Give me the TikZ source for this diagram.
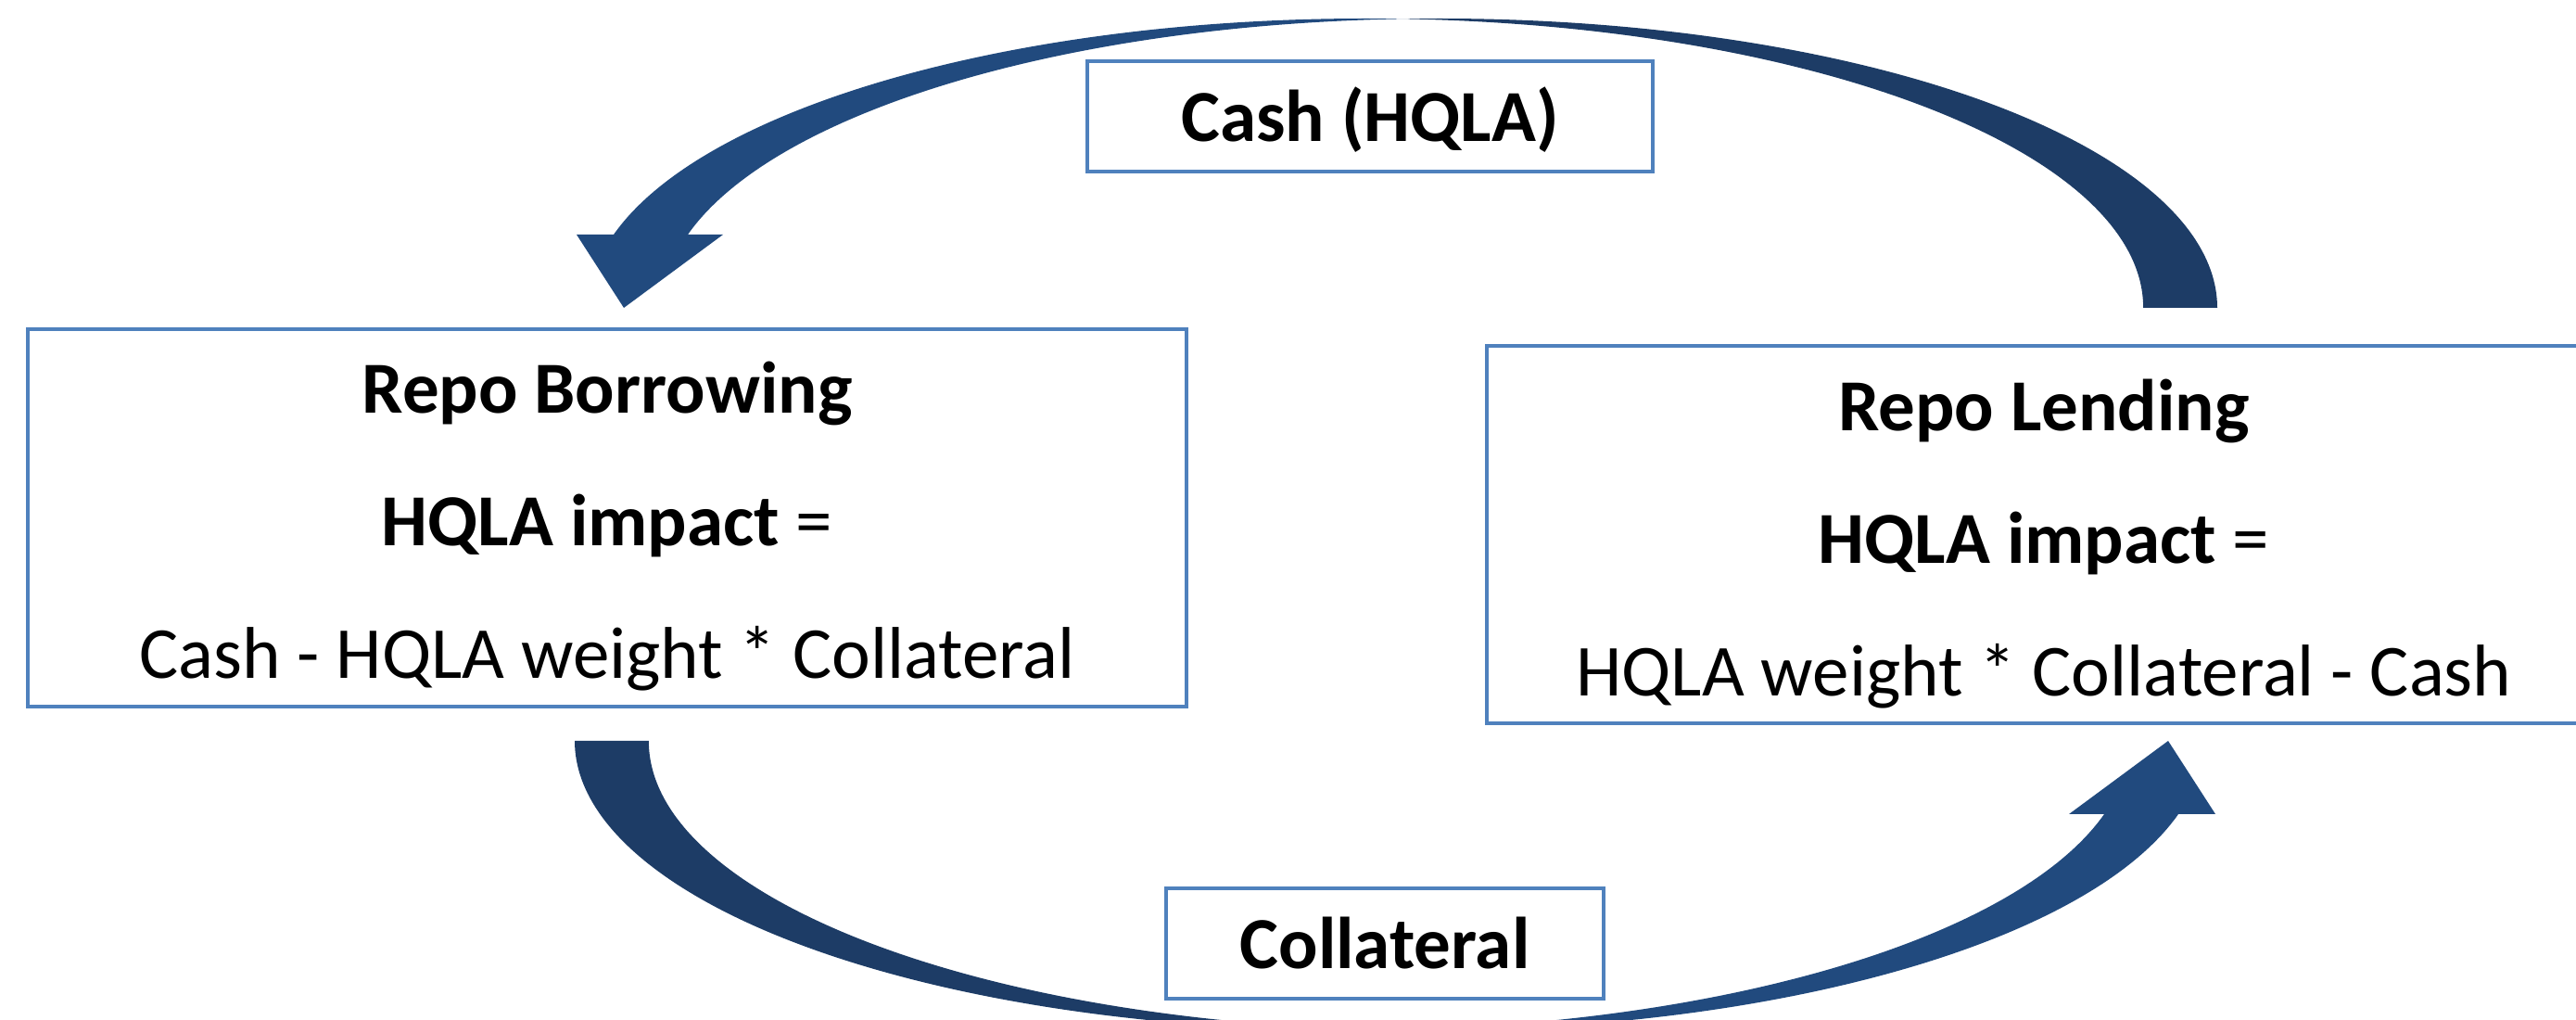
\documentclass[tikz,border=0pt]{standalone}
\usepackage{fontspec}
\setmainfont{Carlito}
\usepackage{tikz}

\definecolor{boxblue}{HTML}{4F81BD}
\definecolor{headblue}{HTML}{214A7E}
\definecolor{tailblue}{HTML}{1D3C66}

\tikzset{
  repobox/.style={draw=boxblue, line width=1.2pt, minimum height=4.07cm},
  repotext/.style={align=center, font=\fontsize{22.5}{40.7}\selectfont},
  flowbox/.style={draw=boxblue, line width=1.2pt, minimum height=1.15cm,
    text height=0.75cm, text depth=0.21cm,
    font=\bfseries\fontsize{22.5}{27}\selectfont},
  ell/.style={x radius=8.387, y radius=3.12}
}

% curved block arrow: two equal half ellipses, 0.8 apart
\newcommand{\repoarrow}{%
  \fill[tailblue] (23.92,7.68) arc[start angle=0, end angle=92.73, ell]
    arc[start angle=87.27, end angle=0, ell] -- cycle;
  \fill[headblue] ([shift={(14.733,7.68)}]87.27:8.387 and 3.12)
    arc[start angle=87.27, end angle=165.33, ell]
    -- (6.22,8.47) -- (6.73,7.68) -- (7.80,8.47)
    -- ([shift={(15.533,7.68)}]165.33:8.387 and 3.12)
    arc[start angle=165.33, end angle=92.73, ell] -- cycle;
}

\begin{document}
\begin{tikzpicture}
    \useasboundingbox (0,0) rectangle (27.79,11);
    \clip (0,0) rectangle (27.79,11);

    % cash goes over the top, collateral comes back underneath
    \repoarrow
    \begin{scope}[rotate around={180:(15.06,5.345)}]
        \repoarrow
    \end{scope}

    \node[repobox, minimum width=12.5cm] (borrow) at (6.55,5.415) {};
    \node[repotext] (borrowtxt) at ([yshift=-0.09cm]borrow.center)
        {\textbf{Repo Borrowing}\\ \textbf{HQLA impact} =\\ Cash - HQLA weight * Collateral};
    \node[repobox, minimum width=12.02cm] (lend) at (22.05,5.235) {};
    \node[repotext] (lendtxt) at ([yshift=-0.1cm]lend.center)
        {\textbf{Repo Lending}\\ \textbf{HQLA impact} =\\ HQLA weight * Collateral - Cash};

    \node[flowbox, minimum width=6.10cm] (cash) at (14.78,9.745) {Cash (HQLA)};
    \node[flowbox, minimum width=4.72cm] (collat) at (14.94,0.825) {Collateral};
\end{tikzpicture}
\end{document}
